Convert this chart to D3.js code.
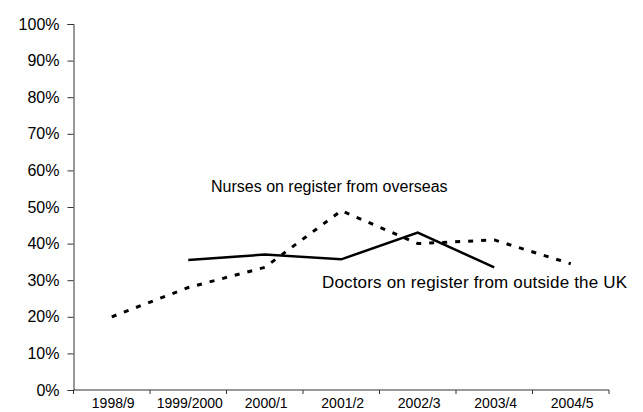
<!DOCTYPE html>
<html><head><meta charset="utf-8">
<script src="https://cdn.jsdelivr.net/npm/d3@7"></script>
<style>html,body{margin:0;padding:0;background:#fff;overflow:hidden}</style>
</head><body>
<svg id="c" width="643" height="412"></svg>
<script>
const categories = ["1998/9","1999/2000","2000/1","2001/2","2002/3","2003/4","2004/5"];
const nurses = [20, 28, 33.5, 49, 40, 41, 34.5];
const doctors = [null, 35.5, 37, 35.7, 43, 33.5, null];
const yTicks = [0,10,20,30,40,50,60,70,80,90,100];
const nursesLabel = "Nurses on register from overseas";
const doctorsLabel = "Doctors on register from outside the UK";

const svg = d3.select("#c");
const x0 = 73.5, x1 = 609, yTop = 24, yBot = 390;
const x = d3.scaleBand().domain(categories).range([x0, x1]);
const y = d3.scaleLinear().domain([0, 100]).range([yBot, yTop]);
const font = "Liberation Sans, Arial, sans-serif";

const yAxis = svg.append("g").attr("transform", `translate(${x0},0)`)
  .call(d3.axisLeft(y).tickValues(yTicks).tickFormat(d => d + "%").tickSizeOuter(0).tickSize(6).tickPadding(8));
yAxis.selectAll("text").attr("font-family", font).attr("font-size", 16).attr("fill", "#000");
yAxis.selectAll("line,path").attr("stroke", "#333");

// x axis with ticks at band boundaries
const xg = svg.append("g").attr("transform", `translate(0,${yBot})`);
xg.append("line").attr("x1", x0).attr("x2", x1).attr("stroke", "#333");
const bounds = categories.map(c => x(c)).concat([x1]);
xg.selectAll("line.t").data(bounds).enter().append("line").attr("class","t")
  .attr("x1", d => d).attr("x2", d => d).attr("y1", 0).attr("y2", 4).attr("stroke", "#333");
xg.selectAll("text").data(categories).enter().append("text")
  .attr("x", d => x(d) + x.bandwidth()/2 + 1.5).attr("y", 18)
  .attr("text-anchor", "middle").attr("font-family", font).attr("font-size", 14).attr("fill", "#000")
  .text(d => d);

const line = d3.line().defined(d => d.v != null)
  .x(d => x(d.c) + x.bandwidth()/2).y(d => y(d.v));

svg.append("path").datum(categories.map((c,i)=>({c, v:nurses[i]})))
  .attr("d", line).attr("fill","none").attr("stroke","#000").attr("stroke-width",3)
  .attr("stroke-dasharray","5,8");
svg.append("path").datum(categories.map((c,i)=>({c, v:doctors[i]})))
  .attr("d", line).attr("fill","none").attr("stroke","#000").attr("stroke-width",2.5);

svg.append("text").attr("x", 211).attr("y", 192).attr("font-family", font).attr("font-size", 16)
  .attr("fill","#000").text(nursesLabel);
svg.append("text").attr("x", 322).attr("y", 288).attr("font-family", font).attr("font-size", 17)
  .attr("textLength", 305).attr("lengthAdjust", "spacing").attr("fill","#000").text(doctorsLabel);
</script>
</body></html>
